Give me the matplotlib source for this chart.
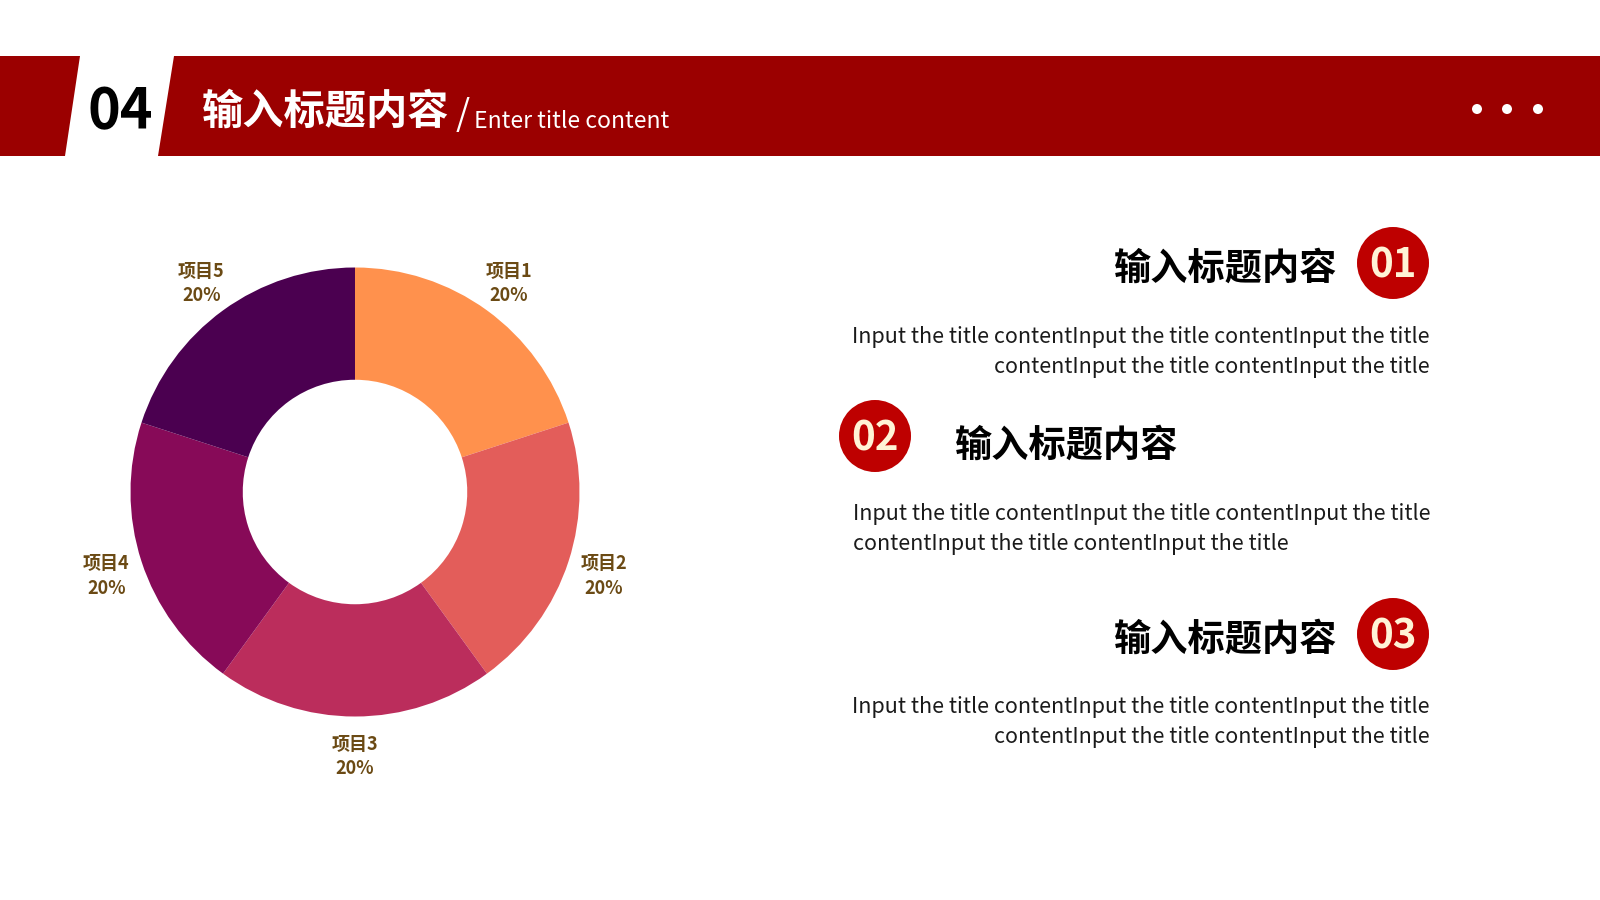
import matplotlib.pyplot as plt
from matplotlib.patches import Polygon, Circle

plt.rcParams['font.family'] = ['Noto Sans CJK SC', 'DejaVu Sans']

# Data
items = ["项目1", "项目2", "项目3", "项目4", "项目5"]
shares = [20, 20, 20, 20, 20]
slice_colors = ["#FF914D", "#E35D5A", "#BB2D5C", "#870A58", "#4B0050"]

section_no = "04"
page_title = "输入标题内容"
page_subtitle = "Enter title content"
point_titles = ["输入标题内容", "输入标题内容", "输入标题内容"]
point_numbers = ["01", "02", "03"]
point_body = "Input the title contentInput the title contentInput the title\ncontentInput the title contentInput the title"

W, H = 1600, 900
red = "#9B0000"
circle_red = "#BE0000"

fig = plt.figure(figsize=(16, 9), dpi=100)
bg = fig.add_axes([0, 0, 1, 1])
bg.set_xlim(0, W)
bg.set_ylim(H, 0)
bg.axis("off")

# header band
bg.add_patch(Polygon([(0, 56), (80, 56), (65, 156), (0, 156)], closed=True, color=red, lw=0))
bg.add_patch(Polygon([(174, 56), (W, 56), (W, 156), (158, 156)], closed=True, color=red, lw=0))
bg.text(88, 112, section_no, fontsize=40, fontweight="bold", color="black", ha="left", va="center")
bg.text(202, 112, page_title, fontsize=29.7, fontweight="bold", color="white", ha="left", va="center")
bg.text(456, 115, "/", fontsize=26, color="white", ha="left", va="center")
bg.text(474, 121, page_subtitle, fontsize=16.5, color="white", ha="left", va="center")
for dx in (1477, 1507, 1538):
    bg.add_patch(Circle((dx, 109), 5, color="white", lw=0))

# donut
cx, cy, R = 355, 492, 224.5
span = R * 1.25
ax = fig.add_axes([(cx - span) / W, (H - cy - span) / H, 2 * span / W, 2 * span / H])
labels = [f"{n}\n{v}%" for n, v in zip(items, shares)]
_, texts = ax.pie(shares, colors=slice_colors, startangle=90, counterclock=False,
                  labels=labels, labeldistance=1.165,
                  wedgeprops=dict(width=0.5, linewidth=0),
                  textprops=dict(fontsize=13, fontweight="bold", color="#6B4A14",
                                 ha="center", va="center", linespacing=1.35))
for t in texts:
    x, y = t.get_position()
    t.set_position((x, y - 0.014))
ax.set_xlim(-1.25, 1.25)
ax.set_ylim(-1.25, 1.25)
ax.set_aspect("equal")
ax.axis("off")

# right-hand points
body_kw = dict(fontsize=15.5, color="#1A1A1A", linespacing=1.42, va="center")
num_kw = dict(fontsize=29, fontweight="bold", color="#FFF3D6", ha="center", va="center")
head_kw = dict(fontsize=26.8, fontweight="bold", va="center")

bg.text(1337, 269, point_titles[0], ha="right", **head_kw)
bg.add_patch(Circle((1393, 263), 36, color=circle_red, lw=0))
bg.text(1393, 266, point_numbers[0], **num_kw)
bg.text(1430, 352, point_body, ha="right", multialignment="right", **body_kw)

bg.add_patch(Circle((875, 436), 36, color=circle_red, lw=0))
bg.text(875, 439, point_numbers[1], **num_kw)
bg.text(955, 446, point_titles[1], ha="left", **head_kw)
bg.text(853, 529, point_body, ha="left", multialignment="left", **body_kw)

bg.text(1337, 640, point_titles[2], ha="right", **head_kw)
bg.add_patch(Circle((1393, 634), 36, color=circle_red, lw=0))
bg.text(1393, 637, point_numbers[2], **num_kw)
bg.text(1430, 722, point_body, ha="right", multialignment="right", **body_kw)

fig.savefig("out.png", dpi=100, facecolor="white")
